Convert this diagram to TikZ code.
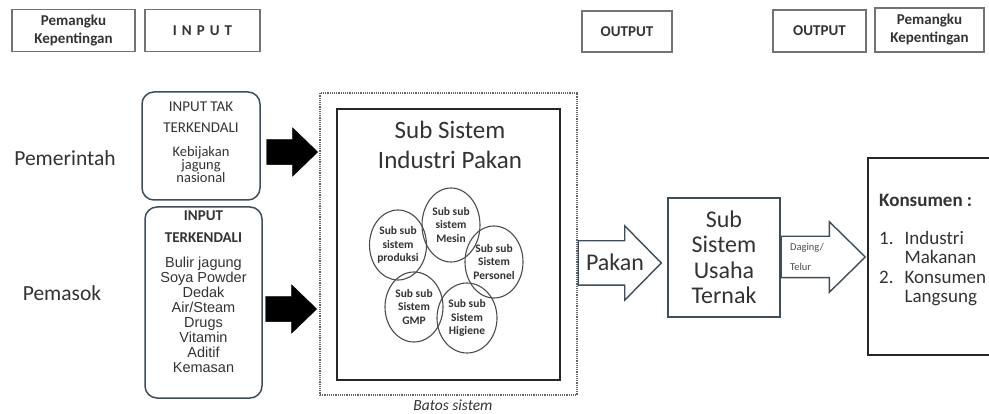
\documentclass[tikz,border=0pt]{standalone}
\usepackage{fontspec}
\setmainfont{Carlito}
\newfontfamily\arialfont{Liberation Sans}
\usetikzlibrary{shapes.geometric,shapes.arrows}

\definecolor{slate}{HTML}{3E4C5C}
\definecolor{ink}{HTML}{333333}

\tikzset{
  hdr/.style={draw=black!55, line width=1.8pt, inner sep=0pt, minimum height=42pt,
    align=center, text=ink, font=\bfseries\fontsize{15}{18}\selectfont},
  actor/.style={text=ink, font=\fontsize{21.5}{23}\selectfont},
  inbox/.style={draw=slate, line width=1.5pt, rounded corners=12pt, inner sep=0pt},
  blk/.style={shape=single arrow, fill=black, draw=black, inner sep=0pt,
    text height=12.5pt, text depth=12.5pt, single arrow head extend=11.5pt,
    single arrow tip angle=88, minimum height=51pt},
  hollow/.style={shape=single arrow, draw=slate, line width=1.4pt, inner sep=0pt},
  subtxt/.style={align=center, text=ink, font=\bfseries\fontsize{11.5}{13.5}\selectfont},
  ring/.style={draw=black!70, line width=1.1pt},
}

\begin{document}
\begin{tikzpicture}[x=1pt,y=-1pt]
\useasboundingbox (0,0) rectangle (989,414);

% kepala kolom
\node[hdr, minimum width=123pt] (pk1) at (73.5,30.5) {Pemangku\\Kepentingan};
\node[hdr, minimum width=115pt] (hin) at (202.5,30.5) {I\,\,N\,\,P\,\,U\,\,T};
\node[hdr, minimum width=90pt, minimum height=41pt] (hout1) at (627,31.5) {OUTPUT};
\node[hdr, minimum width=93pt] (hout2) at (819.5,31) {OUTPUT};
\node[hdr, minimum width=109pt, minimum height=44pt] (pk2) at (929.5,30) {Pemangku\\Kepentingan};

% pemangku kepentingan
\node[actor] (pem) at (65,158) {Pemerintah};
\node[actor] (pas) at (62,293) {Pemasok};

% input
\node[inbox, minimum width=118pt, minimum height=108pt] (tak) at (201,146) {};
\node[align=center, text=ink, font=\fontsize{15}{21}\selectfont] (taktit) at (201,117.5) {INPUT TAK\\TERKENDALI};
\node[align=center, text=ink, font=\fontsize{14.5}{13}\selectfont] (takisi) at (201,165) {Kebijakan\\jagung\\nasional};

\node[inbox, minimum width=117pt, minimum height=191pt] (kend) at (203.5,302.5) {};
\node[align=center, text=ink, font=\bfseries\fontsize{15}{22}\selectfont] (kendtit) at (203.5,226.5) {INPUT\\TERKENDALI};
\node[align=center, text=ink, font=\arialfont\fontsize{14.5}{15}\selectfont] (kendisi) at (203.5,315)
  {Bulir jagung\\Soya Powder\\Dedak\\Air/Steam\\Drugs\\Vitamin\\Aditif\\Kemasan};

\node[blk, anchor=tip] (ar1) at (318,152) {};
\node[blk, anchor=tip] (ar2) at (317,309) {};

% sistem industri pakan
\node[draw=black!60, densely dotted, line width=1.2pt, minimum width=257pt, minimum height=302pt] (sys) at (448.5,244) {};
\node[text=ink, font=\itshape\fontsize{15.5}{17}\selectfont] (batas) at (453,405) {Batos sistem};
\node[draw=black!85, line width=2.6pt, minimum width=223pt, minimum height=271pt] (ind) at (448.5,244.5) {};
\node[align=center, text=ink, font=\fontsize{25}{29.5}\selectfont] (indtit) at (450,145) {Sub Sistem\\Industri Pakan};

\node[subtxt] (prod) at (398,245) {Sub sub\\sistem\\produksi};
\node[subtxt] (mes) at (451,225) {Sub sub\\sistem\\Mesin};
\node[subtxt] (pers) at (494,262) {Sub sub\\Sistem\\Personel};
\node[subtxt] (gmp) at (414,307) {Sub sub\\Sistem\\GMP};
\node[subtxt] (hig) at (467,318) {Sub sub\\Sistem\\Higiene};
\draw[ring] (prod) ellipse [x radius=28.5, y radius=35];
\draw[ring] (mes) ellipse [x radius=29, y radius=37];
\draw[ring] (pers) ellipse [x radius=29, y radius=36];
\draw[ring] (gmp) ellipse [x radius=29, y radius=35];
\draw[ring] (hig) ellipse [x radius=30, y radius=35];

% usaha ternak
\node[draw=slate, line width=1.5pt, minimum width=112pt, minimum height=119pt, align=center,
  text=ink, font=\fontsize{24}{25.5}\selectfont] (usaha) at (724,257.5) {Sub\\Sistem\\Usaha\\Ternak};

\node[hollow, anchor=tip, text height=21.5pt, text depth=21.5pt, single arrow head extend=15pt,
  single arrow tip angle=91, minimum height=83pt] (pakan) at ([xshift=-5pt]usaha.west |- 0,263) {};
\node[text=ink, font=\fontsize{24}{26}\selectfont] (pakantxt) at (615,262) {Pakan};

% konsumen
\node[draw=black!85, line width=1.5pt, minimum width=127pt, minimum height=197pt] (kons) at (931.5,256.5) {};
\node[hollow, anchor=tip, text height=20pt, text depth=20pt, single arrow head extend=14.5pt,
  single arrow tip angle=89, minimum height=84pt] (dag) at ([xshift=-1pt]kons.west |- 0,257) {};
\node[align=left, text=black!70, font=\fontsize{10.5}{20}\selectfont] (dagtxt) at (807,257) {Daging/\\Telur};

\node[anchor=north west, inner sep=0pt, align=left, text=ink, font=\fontsize{19}{19.5}\selectfont] (konsisi) at (879,194)
  {\textbf{Konsumen :}\\[18pt]
   1.\hspace{11pt}Industri\\
   \phantom{1.}\hspace{11pt}Makanan\\
   2.\hspace{11pt}Konsumen\\
   \phantom{2.}\hspace{11pt}Langsung};
\end{tikzpicture}
\end{document}
